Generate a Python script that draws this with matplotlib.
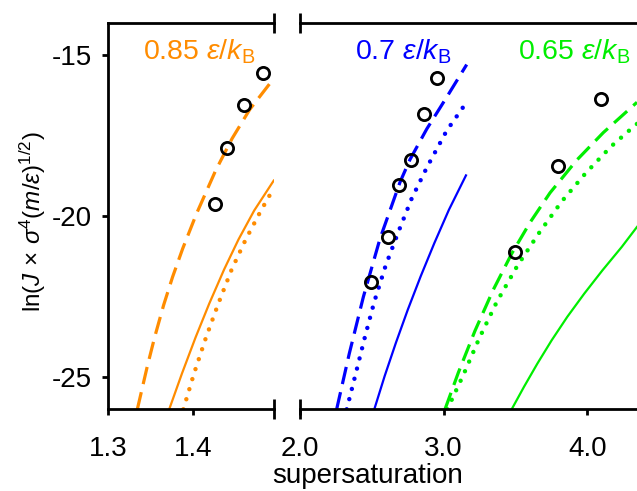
import matplotlib
matplotlib.use("Agg")
import matplotlib.pyplot as plt

plt.rcParams['font.family'] = ['Liberation Sans', 'DejaVu Sans']
plt.rcParams['mathtext.fontset'] = 'custom'
plt.rcParams['mathtext.rm'] = 'Liberation Sans'
plt.rcParams['mathtext.it'] = 'Liberation Sans:italic'
plt.rcParams['mathtext.bf'] = 'Liberation Sans:bold'

# ---------------- data ----------------
# 0.85 eps/kB (left panel)
or_dash_x = [1.3345, 1.3461, 1.3550, 1.3654, 1.3760, 1.3879, 1.4041, 1.4266, 1.4459, 1.4666, 1.4915]
or_dash_y = [-26.0, -24.68, -23.75, -22.77, -21.89, -21.01, -19.93, -18.59, -17.6, -16.7, -15.85]
or_solid_x = [1.3720, 1.3870, 1.4030, 1.4191, 1.4366, 1.4535, 1.4720, 1.4950]
or_solid_y = [-26.0, -24.89, -23.77, -22.72, -21.66, -20.73, -19.83, -18.90]
or_dot_x = [1.3886, 1.4012, 1.4153, 1.4298, 1.4455, 1.4620, 1.4800, 1.4925]
or_dot_y = [-26.0, -24.89, -23.77, -22.72, -21.66, -20.73, -19.83, -19.25]
or_sim_x = [1.4258, 1.4396, 1.4604, 1.4827]
or_sim_y = [-19.62, -17.90, -16.55, -15.56]

# 0.7 eps/kB
bl_dash_x = [2.255, 2.343, 2.441, 2.557, 2.696, 2.765, 2.882, 3.021, 3.160]
bl_dash_y = [-26.0, -24.27, -22.51, -20.70, -18.95, -18.25, -17.30, -16.31, -15.30]
bl_dot_x = [2.325, 2.388, 2.452, 2.517, 2.596, 2.684, 2.777, 2.882, 3.021, 3.148]
bl_dot_y = [-26.0, -24.89, -23.75, -22.66, -21.54, -20.50, -19.46, -18.50, -17.35, -16.54]
bl_solid_x = [2.517, 2.589, 2.667, 2.750, 2.840, 2.935, 3.036, 3.155]
bl_solid_y = [-26.0, -24.97, -23.94, -22.91, -21.87, -20.84, -19.81, -18.74]
bl_sim_x = [2.492, 2.610, 2.689, 2.772, 2.863, 2.951]
bl_sim_y = [-22.05, -20.65, -19.03, -18.25, -16.83, -15.71]

# 0.65 eps/kB
gr_dash_x = [3.009, 3.102, 3.218, 3.345, 3.473, 3.601, 3.740, 3.925, 4.111, 4.345]
gr_dash_y = [-26.0, -24.86, -23.56, -22.29, -21.17, -20.20, -19.28, -18.27, -17.41, -16.47]
gr_dot_x = [3.025, 3.141, 3.248, 3.369, 3.512, 3.663, 3.821, 3.988, 4.165, 4.290, 4.345]
gr_dot_y = [-26.0, -24.89, -23.79, -22.67, -21.55, -20.53, -19.55, -18.67, -17.84, -17.35, -17.14]
gr_solid_x = [3.473, 3.559, 3.652, 3.751, 3.860, 3.978, 4.104, 4.239, 4.345]
gr_solid_y = [-26.0, -25.30, -24.58, -23.86, -23.13, -22.41, -21.69, -20.96, -20.34]
gr_sim_x = [3.496, 3.793, 4.095]
gr_sim_y = [-21.12, -18.45, -16.36]

left_ticks = [1.3, 1.4]
left_ticklabels = ['1.3', '1.4']
right_ticks = [2.0, 3.0, 4.0]
right_ticklabels = ['2.0', '3.0', '4.0']
y_ticks = [-25, -20, -15]
y_ticklabels = ['-25', '-20', '-15']

ORANGE = '#FF8C00'
BLUE = '#0000FF'
GREEN = '#00EE00'

# ---------------- figure ----------------
W, H = 637, 491
fig = plt.figure(figsize=(W / 100, H / 100), dpi=100)

top_px, bot_px = 22.7, 409.3
ax1 = fig.add_axes([108 / W, 1 - bot_px / H, (274 - 108) / W, (bot_px - top_px) / H])
ax2 = fig.add_axes([300 / W, 1 - bot_px / H, (637 - 300) / W, (bot_px - top_px) / H])

dash_style = dict(lw=2.3, dashes=(5.5, 2.6), dash_capstyle='butt', solid_joinstyle='round')
dot_style = dict(lw=3.2, dashes=(0.01, 2.35), dash_capstyle='round')
solid_style = dict(lw=1.6, solid_joinstyle='round')
circ_style = dict(ls='none', marker='o', ms=8.8, mfc='none', mec='black', mew=2.0, zorder=5)

def draw(ax, dx, dy, sx, sy, tx, ty, cx, cy, color):
    ax.plot(dx, dy, color=color, **dash_style)
    ax.plot(tx, ty, color=color, **dot_style)
    ax.plot(sx, sy, color=color, **solid_style)
    ax.plot(cx, cy, **circ_style)

draw(ax1, or_dash_x, or_dash_y, or_solid_x, or_solid_y, or_dot_x, or_dot_y, or_sim_x, or_sim_y, ORANGE)
draw(ax2, bl_dash_x, bl_dash_y, bl_solid_x, bl_solid_y, bl_dot_x, bl_dot_y, bl_sim_x, bl_sim_y, BLUE)
draw(ax2, gr_dash_x, gr_dash_y, gr_solid_x, gr_solid_y, gr_dot_x, gr_dot_y, gr_sim_x, gr_sim_y, GREEN)

ax1.set_xlim(1.3, 1.4953)
ax2.set_xlim(2.0, 2.0 + 337 / 143.7)
for ax in (ax1, ax2):
    ax.set_ylim(-26, -14)
    ax.spines['right'].set_visible(False)
    for s in ('top', 'bottom', 'left'):
        ax.spines[s].set_linewidth(2.0)
    ax.tick_params(direction='out', length=4.5, width=2.0, labelsize=20)
    ax.tick_params(axis='x', pad=15)
    ax.tick_params(axis='y', pad=7)
ax2.spines['left'].set_visible(False)

ax1.set_xticks(left_ticks)
ax1.set_xticklabels(left_ticklabels)
ax2.set_xticks(right_ticks)
ax2.set_xticklabels(right_ticklabels)
ax1.set_yticks(y_ticks)
ax1.set_yticklabels(y_ticklabels)
ax2.set_yticks([])

# break caps
cap = 10 / (bot_px - top_px)
for ax, xa in ((ax1, 1.0), (ax2, 0.0)):
    for ya in (0.0, 1.0):
        ax.plot([xa, xa], [ya - cap, ya + cap], transform=ax.transAxes,
                color='black', lw=2.0, clip_on=False, solid_capstyle='butt')

# labels
fig.text(368 / W, 1 - 476 / H, 'supersaturation', ha='center', va='center', fontsize=20)
fig.text(33 / W, 1 - 222 / H, r'$\mathrm{ln}(J\,\times\,\sigma^{4}(m/\varepsilon)^{1/2})$',
         rotation=90, ha='center', va='center', fontsize=17.5)

fig.text(143 / W, 1 - 60 / H, r'0.85 $\varepsilon/k_\mathrm{B}$', color=ORANGE, fontsize=20.5,
         ha='left', va='baseline')
fig.text(355 / W, 1 - 60 / H, r'0.7 $\varepsilon/k_\mathrm{B}$', color=BLUE, fontsize=20.5,
         ha='left', va='baseline')
fig.text(518 / W, 1 - 60 / H, r'0.65 $\varepsilon/k_\mathrm{B}$', color=GREEN, fontsize=20.5,
         ha='left', va='baseline')

fig.savefig('out.png', dpi=100)
